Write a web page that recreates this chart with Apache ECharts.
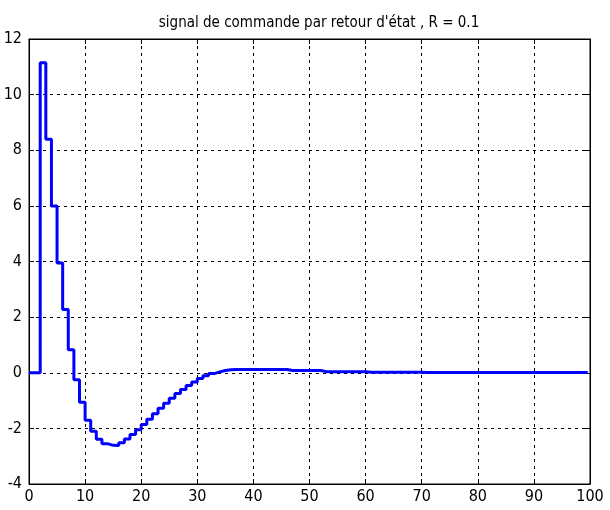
<!DOCTYPE html>
<html>
<head>
<meta charset="utf-8">
<script src="https://cdn.jsdelivr.net/npm/echarts@6/dist/echarts.min.js"></script>
<style>
html,body{margin:0;padding:0;background:#fff;}
#c{width:610px;height:510px;}
</style>
</head>
<body>
<div id="c"></div>
<script>
var titleText = "signal de commande par retour d'état , R = 0.1";
var xTicks = { min: 0, max: 100, interval: 10 };
var yTicks = { min: -4, max: 12, interval: 2 };

// sample instants (stairs)
var t = [0,1,2,3,4,5,6,7,8,9,
  10,11,12,13,14,15,16,17,18,19,
  20,21,22,23,24,25,26,27,28,29,
  30,31,32,33,34,35,36,37,38,39,
  40,41,42,43,44,45,46,47,48,49,
  50,51,52,53,54,55,56,57,58,59,
  60,61,62,63,64,65,66,67,68,69,
  70,71,72,73,74,75,76,77,78,79,
  80,81,82,83,84,85,86,87,88,89,
  90,91,92,93,94,95,96,97,98,99];
var tEnd = 99.6;

// control signal values
var u = [0,0,11.15,8.4,6.0,3.95,2.27,0.83,-0.25,-1.06,
  -1.71,-2.1,-2.39,-2.55,-2.61,-2.62,-2.52,-2.38,-2.22,-2.05,
  -1.86,-1.67,-1.47,-1.28,-1.1,-0.92,-0.75,-0.6,-0.46,-0.33,
  -0.21,-0.11,-0.03,0.03,0.08,0.11,0.12,0.12,0.12,0.12,
  0.12,0.12,0.12,0.12,0.12,0.12,0.08,0.08,0.08,0.08,
  0.08,0.08,0.04,0.04,0.04,0.04,0.04,0.04,0.04,0.04,
  0.02,0.02,0.02,0.02,0.02,0.02,0.02,0.02,0.02,0.02,
  0.01,0.01,0.01,0.01,0.01,0.01,0.01,0.01,0.01,0.01,
  0.01,0.01,0.01,0.01,0.01,0.01,0.01,0.01,0.01,0.01,
  0.01,0.01,0.01,0.01,0.01,0.01,0.01,0.01,0.01,0.01];

var pts = [];
for (var i = 0; i < t.length; i++) pts.push([t[i], u[i]]);
pts.push([tEnd, u[u.length - 1]]);

var FONT = '"DejaVu Sans Condensed","Liberation Sans Narrow",sans-serif';
var gridLine = { show: true, lineStyle: { color: '#000', width: 1, type: [3, 4] } };
var tick = { show: true, inside: true, length: 5, lineStyle: { color: '#000', width: 1 } };
var axisLine = { show: true, onZero: false, lineStyle: { color: '#000', width: 1 } };

var chart = echarts.init(document.getElementById('c'), null, { renderer: 'canvas' });
chart.setOption({
  backgroundColor: '#fff',
  animation: false,
  title: {
    text: titleText,
    left: 314, textAlign: 'center',
    top: 11,
    textStyle: { fontFamily: FONT, fontSize: 15, fontWeight: 'normal', color: '#000' }
  },
  grid: { left: 29, right: 20, top: 39, bottom: 26, show: true, borderColor: '#000', borderWidth: 1, backgroundColor: '#fff' },
  xAxis: [{
    type: 'value', min: xTicks.min, max: xTicks.max, interval: xTicks.interval,
    position: 'bottom',
    axisLine: axisLine, axisTick: tick, splitLine: gridLine,
    axisLabel: { color: '#000', fontFamily: FONT, fontSize: 16, margin: 5 }
  }, {
    type: 'value', min: xTicks.min, max: xTicks.max, interval: xTicks.interval,
    position: 'top',
    axisLine: axisLine, axisTick: tick, splitLine: { show: false },
    axisLabel: { show: false }
  }],
  yAxis: [{
    type: 'value', min: yTicks.min, max: yTicks.max, interval: yTicks.interval,
    position: 'left',
    axisLine: axisLine, axisTick: tick, splitLine: gridLine,
    axisLabel: { color: '#000', fontFamily: FONT, fontSize: 16, margin: 7 }
  }, {
    type: 'value', min: yTicks.min, max: yTicks.max, interval: yTicks.interval,
    position: 'right',
    axisLine: axisLine, axisTick: tick, splitLine: { show: false },
    axisLabel: { show: false }
  }],
  series: [{
    type: 'line',
    xAxisIndex: 0, yAxisIndex: 0,
    data: pts,
    step: 'end',
    symbol: 'none',
    lineStyle: { color: '#0000ff', width: 3 },
    z: 5
  }]
});
</script>
</body>
</html>
